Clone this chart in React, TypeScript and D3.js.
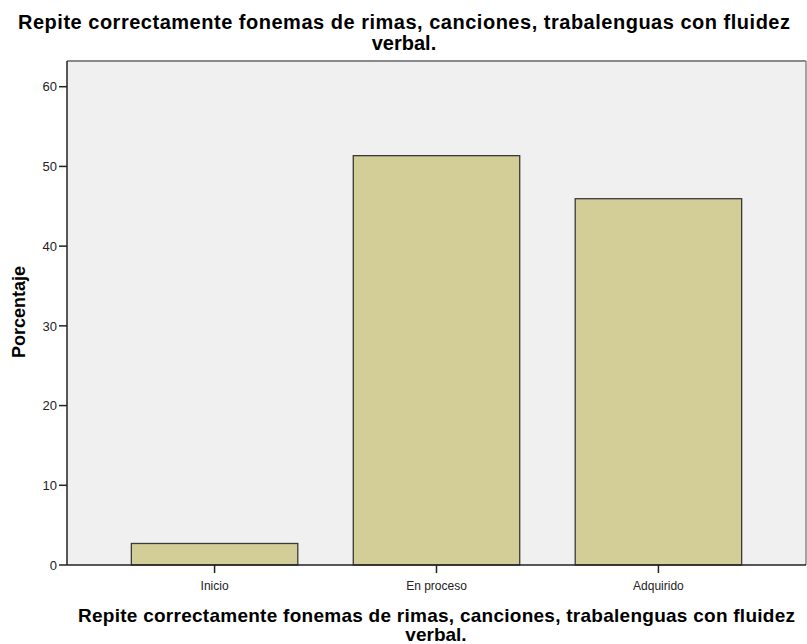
import React from 'react';
import * as d3 from 'd3';

const categories = ['Inicio', 'En proceso', 'Adquirido'];
const percentages = [2.7, 51.35, 45.95];
const yTicks = [0, 10, 20, 30, 40, 50, 60];
const titleLine1 = 'Repite correctamente fonemas de rimas, canciones, trabalenguas con fluidez';
const titleLine2 = 'verbal.';
const yLabel = 'Porcentaje';

const App = () => {
  const width = 807;
  const height = 644;
  const font = '"Liberation Sans", Arial, sans-serif';

  // plot area
  const left = 67;
  const right = 806;
  const top = 61;
  const bottom = 565;

  const xScale = d3.scaleBand()
    .domain(categories)
    .range([left, right])
    .paddingInner(0.25)
    .paddingOuter(0.29);

  const yScale = d3.scaleLinear()
    .domain([0, 60])
    .range([bottom, 86.7]);

  return (
    <svg width={width} height={height} style={{ position: 'absolute', left: 0, top: 0 }} fontFamily={font}>
      <rect x={0} y={0} width={width} height={height} fill="#fff" />

      {/* title */}
      <text x={18} y={29} fontSize={20} fontWeight="bold" textLength={772} lengthAdjust="spacing">{titleLine1}</text>
      <text x={404} y={50} fontSize={20} fontWeight="bold" textAnchor="middle">{titleLine2}</text>

      {/* plot background */}
      <rect x={left} y={top} width={right - left} height={bottom - top} fill="#f0f0f0" />
      <line x1={left} x2={right} y1={top} y2={top} stroke="#8a8a8a" strokeWidth={2} />
      <line x1={right} x2={right} y1={top} y2={bottom} stroke="#8a8a8a" strokeWidth={1.5} />

      {/* bars */}
      {categories.map((c, i) => (
        <rect key={c}
          x={xScale(c)}
          y={yScale(percentages[i])}
          width={xScale.bandwidth()}
          height={bottom - yScale(percentages[i])}
          fill="#d3ce97"
          stroke="#3a3a3a"
          strokeWidth={1.3} />
      ))}

      {/* axes */}
      <line x1={left} x2={left} y1={top} y2={bottom} stroke="#222" strokeWidth={1.5} />
      <line x1={left} x2={right} y1={bottom} y2={bottom} stroke="#222" strokeWidth={1.5} />

      {yTicks.map(t => (
        <g key={t}>
          <line x1={left - 8} x2={left} y1={yScale(t)} y2={yScale(t)} stroke="#222" strokeWidth={1.5} />
          <text x={left - 10} y={yScale(t)} dy="0.36em" fontSize={13} textAnchor="end" fill="#222">{t}</text>
        </g>
      ))}

      {categories.map(c => {
        const cx = (xScale(c) as number) + xScale.bandwidth() / 2;
        return (
          <g key={c}>
            <line x1={cx} x2={cx} y1={bottom} y2={bottom + 8} stroke="#222" strokeWidth={1.5} />
            <text x={cx} y={590} fontSize={12} textAnchor="middle" fill="#222">{c}</text>
          </g>
        );
      })}

      {/* axis titles */}
      <text transform="translate(25,312) rotate(-90)" fontSize={18} fontWeight="bold" textAnchor="middle">{yLabel}</text>
      <text x={78} y={622} fontSize={19} fontWeight="bold" textLength={717} lengthAdjust="spacing">{titleLine1}</text>
      <text x={436} y={641} fontSize={19} fontWeight="bold" textAnchor="middle">{titleLine2}</text>
    </svg>
  );
};

export default App;
